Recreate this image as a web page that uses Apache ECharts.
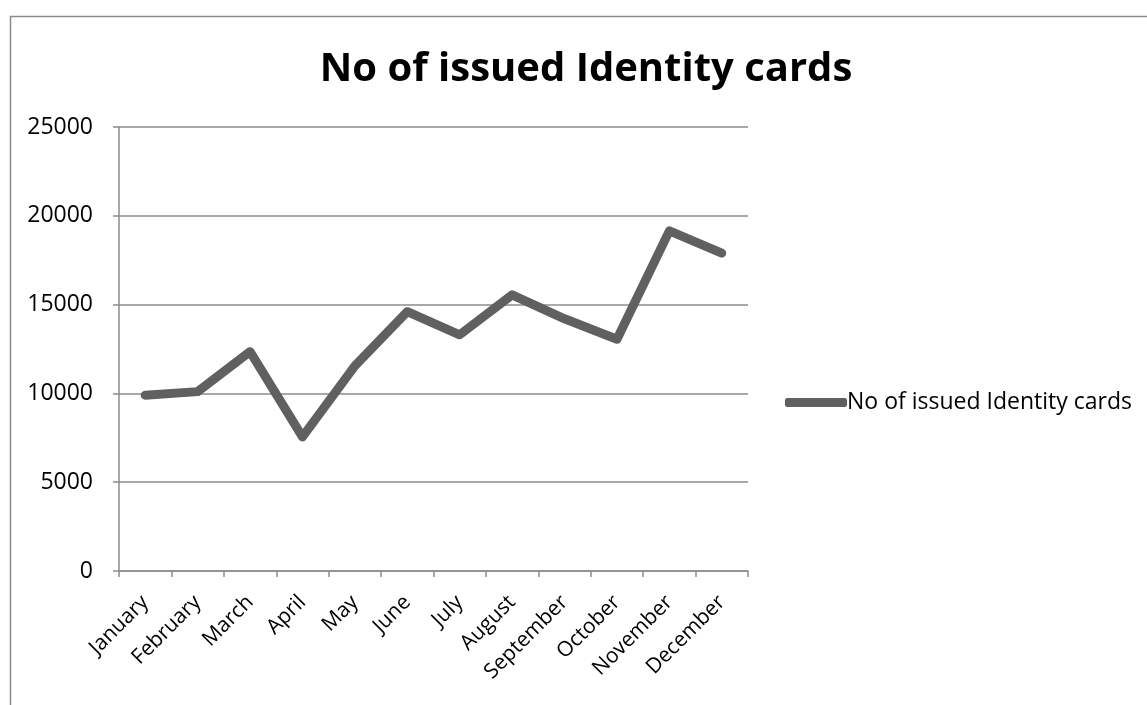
<!DOCTYPE html>
<html><head><meta charset="utf-8">
<script src="https://cdn.jsdelivr.net/npm/echarts@6/dist/echarts.min.js"></script>
<style>html,body{margin:0;padding:0;background:#fff}#c{width:1147px;height:705px}</style>
</head><body><div id="c"></div>
<script>
const months = ["January","February","March","April","May","June","July","August","September","October","November","December"];
const issued = [9900,10100,12350,7550,11550,14600,13300,15550,14200,13050,19150,17900];
const seriesName = "No of issued Identity cards";
const yTicks = {min:0, max:25000, interval:5000};

const chart = echarts.init(document.getElementById('c'), null, {renderer:'canvas'});
const font = "'Open Sans', 'Liberation Sans', sans-serif";
chart.setOption({
  animation:false,
  backgroundColor:'#fff',
  graphic:[{type:'rect', left:8, top:14, shape:{width:1300, height:900}, style:{fill:'none', stroke:'#8c8c8c', lineWidth:1.5}, silent:true, z:-1}],
  title:{text:seriesName, left:586, top:50, textAlign:'center', padding:0,
    textStyle:{fontFamily:font, fontWeight:'bold', fontSize:40, color:'#000'}},
  legend:{data:[{name:seriesName, icon:'roundRect'}], left:785, top:391, padding:0, itemWidth:62, itemHeight:9, itemGap:0,
    textStyle:{fontFamily:font, fontSize:23, color:'#000', padding:[0,0,0,-5]}},
  grid:{left:119, right:399, top:127, bottom:134, containLabel:false},
  xAxis:{type:'category', data:months, boundaryGap:true,
    axisLine:{lineStyle:{color:'#8c8c8c', width:1.5}},
    axisTick:{show:true, length:6, lineStyle:{color:'#8c8c8c', width:1.5}},
    axisLabel:{rotate:45, interval:0, fontFamily:font, fontSize:21, color:'#000', margin:28}},
  yAxis:{type:'value', min:yTicks.min, max:yTicks.max, interval:yTicks.interval,
    axisLine:{show:true, lineStyle:{color:'#8c8c8c', width:1.5}},
    axisTick:{show:true, length:6, lineStyle:{color:'#8c8c8c', width:1.5}},
    splitLine:{lineStyle:{color:'#8c8c8c', width:1.5}},
    axisLabel:{fontFamily:font, fontSize:23, color:'#000', margin:26, formatter:function(v){return String(v);}}},
  series:[{name:seriesName, type:'line', data:issued, symbol:'none',
    lineStyle:{color:'#606060', width:9, cap:'round', join:'round'},
    itemStyle:{color:'#606060'}}]
});
</script></body></html>
